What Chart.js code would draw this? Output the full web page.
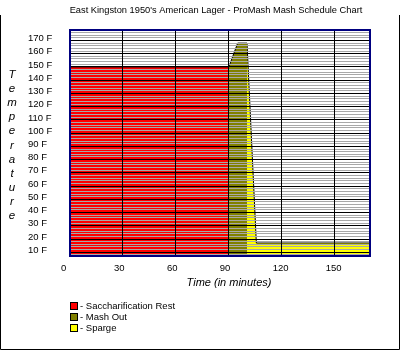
<!DOCTYPE html>
<html><head><meta charset="utf-8">
<script src="https://cdn.jsdelivr.net/npm/chart.js@4/dist/chart.umd.min.js"></script>
<style>html,body{margin:0;padding:0;background:#fff;}canvas{display:block;}</style>
</head><body>
<canvas id="c" width="401" height="351"></canvas>
<script>
const chartTitle = "East Kingston 1950's American Lager - ProMash Mash Schedule Chart";
const xTitle = 'Time (in minutes)';
const yTitle = 'Temperature';
const seriesNames = ['Saccharification Rest', 'Mash Out', 'Sparge'];
const restTime = [0, 90];
const restTemp = [150, 150];
const mashOutTime = [90, 95, 100.3];
const mashOutTemp = [150, 168, 168];
const spargeTime = [100.3, 105.6, 170];
const spargeTemp = [168, 17, 17];
const timeTicks = [0, 30, 60, 90, 120, 150];
const tempTicks = [10, 20, 30, 40, 50, 60, 70, 80, 90, 100, 110, 120, 130, 140, 150, 160, 170];
const minorPerMajor = 5;

const FONT = '"Liberation Sans", Arial, sans-serif';
Chart.defaults.font.family = FONT;
Chart.defaults.color = '#000';

const pts = (xs, ys) => xs.map((x, i) => ({x, y: ys[i]}));

const deco = {
  id: 'deco',
  afterDraw(chart) {
    const {ctx, chartArea: a} = chart;
    ctx.save();
    ctx.strokeStyle = '#000080';
    ctx.lineWidth = 2;
    ctx.strokeRect(a.left, a.top, a.right - a.left, a.bottom - a.top);
    ctx.strokeStyle = '#000';
    ctx.lineWidth = 1;
    ctx.beginPath();
    ctx.moveTo(0.5, 15); ctx.lineTo(0.5, 349.5); ctx.lineTo(399.5, 349.5); ctx.lineTo(399.5, 15);
    ctx.stroke();
    ctx.fillStyle = '#000';
    ctx.textAlign = 'center';
    ctx.textBaseline = 'middle';
    ctx.font = '9.3px ' + FONT;
    ctx.fillText(chartTitle, 216, 10);
    ctx.font = 'italic 11px ' + FONT;
    ctx.fillText(xTitle, 229, 283);
    ctx.font = 'italic 11.5px ' + FONT;
    [...yTitle].forEach((ch, i) => ctx.fillText(ch, 12, 75 + i * 14.07));
    ctx.textAlign = 'left';
    ctx.font = '9.5px ' + FONT;
    chart.data.datasets.forEach((ds, i) => {
      const y = Math.round(301.5 + i * 11.2);
      ctx.fillStyle = ds.backgroundColor;
      ctx.fillRect(70, y, 8, 8);
      ctx.strokeStyle = '#000';
      ctx.strokeRect(70.5, y + 0.5, 7, 7);
      ctx.fillStyle = '#000';
      ctx.fillText('- ' + ds.label, 80, y + 4);
    });
    ctx.restore();
  }
};

const common = {type: 'line', fill: 'start', borderColor: '#000', borderWidth: 1, pointRadius: 0, tension: 0};

new Chart(document.getElementById('c'), {
  data: {
    datasets: [
      {...common, label: seriesNames[0], data: pts(restTime, restTemp), backgroundColor: '#ff0000'},
      {...common, label: seriesNames[1], data: pts(mashOutTime, mashOutTemp), backgroundColor: '#808000'},
      {...common, label: seriesNames[2], data: pts(spargeTime, spargeTemp), backgroundColor: '#ffff00'}
    ]
  },
  options: {
    responsive: false,
    animation: false,
    devicePixelRatio: 1,
    layout: {padding: {left: 28, right: 31, top: 30, bottom: 75}},
    plugins: {legend: {display: false}, tooltip: {enabled: false}, title: {display: false}},
    scales: {
      x: {
        type: 'linear', min: 0, max: 170,
        afterBuildTicks: s => { s.ticks = timeTicks.map(v => ({value: v})); },
        afterFit: s => { s.height = 20; },
        grid: {color: '#000', lineWidth: 1, drawTicks: false, z: 2},
        border: {display: false},
        ticks: {align: 'start', labelOffset: -9, padding: 7, autoSkip: false, maxRotation: 0, font: {size: 9.5}, color: '#000'}
      },
      y: {
        type: 'linear', min: 7.2, max: 177.9,
        afterBuildTicks: s => {
          const step = (tempTicks[1] - tempTicks[0]) / minorPerMajor;
          const t = [];
          for (let i = Math.ceil(s.min / step); i * step <= s.max + 1e-9; i++) {
            const v = i * step;
            const m = tempTicks.find(q => Math.abs(q - v) < 1e-6);
            t.push(m !== undefined ? {value: m, major: true} : {value: v, major: false});
          }
          s.ticks = t;
        },
        afterFit: s => { s.width = 42; },
        grid: {color: c => (c.tick && c.tick.major) ? '#000' : '#a8a8a8', lineWidth: 1, drawTicks: false, z: 1},
        border: {display: false},
        ticks: {
          crossAlign: 'far', labelOffset: -2, autoSkip: false, font: {size: 9.5}, color: '#000',
          callback: function(v, i, ticks) { return ticks[i].major ? v + ' F' : ''; }
        }
      }
    }
  },
  plugins: [deco]
});
</script>
</body></html>
